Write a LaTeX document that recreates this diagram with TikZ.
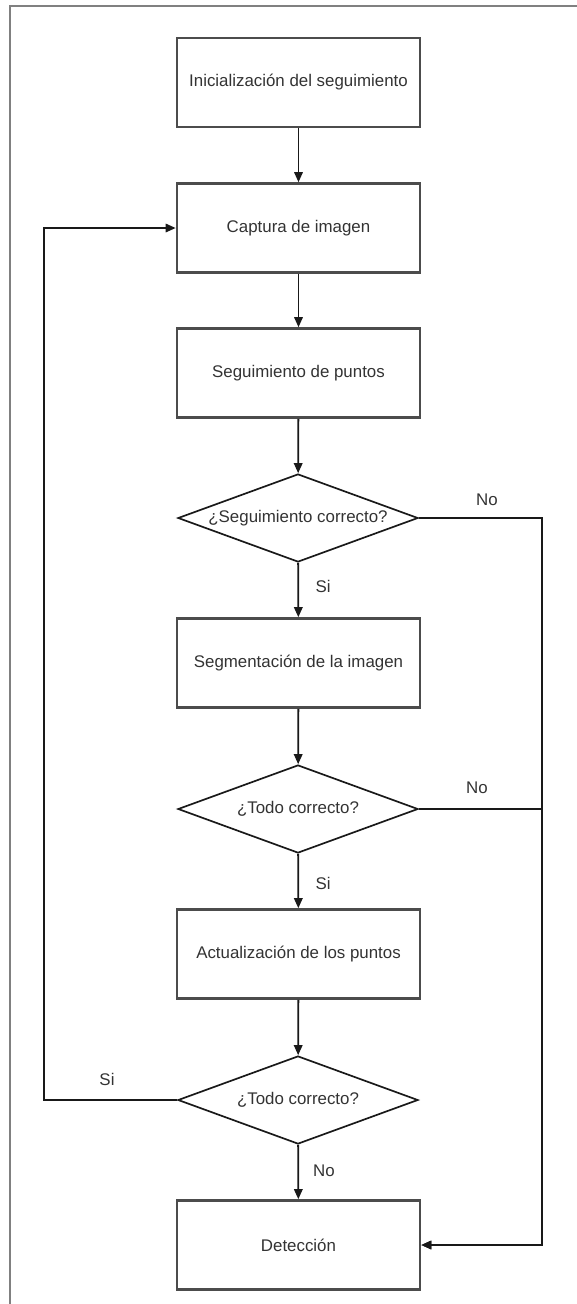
\documentclass[tikz,border=0pt]{standalone}
\usepackage{fontspec}
\setmainfont{Liberation Sans}
\usetikzlibrary{shapes.geometric,arrows.meta,positioning}

\tikzset{
  stepbox/.style={rectangle, draw=black!70, line width=1.8pt, minimum width=6.075cm, minimum height=2.225cm, inner sep=0pt, text=black!80},
  question/.style={diamond, draw=black!90, line width=1.2pt, aspect=2.7, minimum width=6cm, minimum height=2.2cm, inner sep=0pt, text=black!80},
  flow/.style={draw=black!90, line width=1.3pt, -{Triangle[length=0.25cm, width=0.21cm]}},
  answer/.style={text=black!80, inner sep=1pt}
}

\begin{document}
\begin{tikzpicture}[x=0.025cm, y=-0.025cm, font=\fontsize{12}{14}\selectfont]
            \useasboundingbox (0,0) rectangle (577,1304);
            % Frame
            \draw[black!50, line width=0.8pt] (10,1304) -- (10,6) -- (577,6);
            % Process boxes
            \foreach \n/\y/\t in {init/82.5/Inicialización del seguimiento, captura/228/Captura de imagen, segpts/373/Seguimiento de puntos, segm/663/Segmentación de la imagen, actual/954/Actualización de los puntos, detec/1245/Detección} {
                \node[stepbox] (\n) at (298.5,\y) {\t};
            }
            % Decisions
            \node[question] (q1) at (298,518) {¿Seguimiento correcto?};
            \node[question] (q2) at (298,809) {¿Todo correcto?};
            \node[question] (q3) at (298,1100) {¿Todo correcto?};
            % Main flow
            \draw[flow] (init) -- (captura);
            \draw[flow] (captura) -- (segpts);
            \draw[flow] (segpts) -- (q1);
            \draw[flow] (q1) -- (segm);
            \draw[flow] (segm) -- (q2);
            \draw[flow] (q2) -- (actual);
            \draw[flow] (actual) -- (q3);
            \draw[flow] (q3) -- (detec);
            % Side branches
            \coordinate (rt) at (542,518);
            \coordinate (lt) at (44,1100);
            \draw[flow] (q1.east) -- (rt) |- (detec.east);
            \draw[flow] (q2.east) -- (q2.east -| rt) |- (detec.east);
            \draw[flow] (q3.west) -- (lt) |- (captura.west);
            % Answers
            \node[answer] (no1) at (487,500) {No};
            \node[answer] (si1) at (323,586) {Si};
            \node[answer] (no2) at (477,788) {No};
            \node[answer] (si2) at (323,883) {Si};
            \node[answer] (si3) at (107,1079) {Si};
            \node[answer] (no3) at (324,1171) {No};
        \end{tikzpicture}
\end{document}
